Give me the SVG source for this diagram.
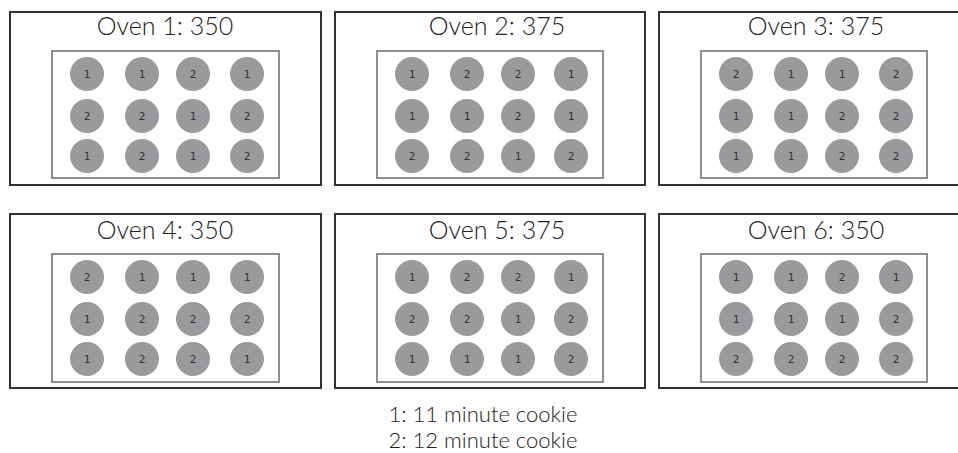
<svg xmlns="http://www.w3.org/2000/svg" width="958" height="453" viewBox="0 0 958 453">
<style>
.outer{fill:#fff;stroke:#333;stroke-width:2}
.inner{fill:#fff;stroke:#6a6a6a;stroke-width:1.5}
.c{fill:#9a9a9c}
.t{font-family:Lato,"Open Sans",sans-serif;font-weight:300;font-size:25px;fill:#222;text-anchor:middle}
.n{font-family:"DejaVu Sans Mono","Liberation Mono",monospace;font-size:11px;fill:#333;text-anchor:middle}
.l{font-family:Lato,"Open Sans",sans-serif;font-weight:300;font-size:22px;fill:#222;text-anchor:middle}
</style>
<rect width="958" height="453" fill="#fff"/>
<g id="oven1">
<rect class="outer" x="10" y="12" width="311" height="173"/>
<text class="t" x="165" y="35">Oven 1: 350</text>
<rect class="inner" x="52" y="51" width="227" height="127"/>
<circle class="c" cx="87" cy="74" r="17"/><text class="n" x="87" y="78">1</text>
<circle class="c" cx="142" cy="74" r="17"/><text class="n" x="142" y="78">1</text>
<circle class="c" cx="193" cy="74" r="17"/><text class="n" x="193" y="78">2</text>
<circle class="c" cx="247" cy="74" r="17"/><text class="n" x="247" y="78">1</text>
<circle class="c" cx="87" cy="116" r="17"/><text class="n" x="87" y="120">2</text>
<circle class="c" cx="142" cy="116" r="17"/><text class="n" x="142" y="120">2</text>
<circle class="c" cx="193" cy="116" r="17"/><text class="n" x="193" y="120">1</text>
<circle class="c" cx="247" cy="116" r="17"/><text class="n" x="247" y="120">2</text>
<circle class="c" cx="87" cy="156" r="17"/><text class="n" x="87" y="160">1</text>
<circle class="c" cx="142" cy="156" r="17"/><text class="n" x="142" y="160">2</text>
<circle class="c" cx="193" cy="156" r="17"/><text class="n" x="193" y="160">1</text>
<circle class="c" cx="247" cy="156" r="17"/><text class="n" x="247" y="160">2</text>
</g>
<g id="oven2">
<rect class="outer" x="335" y="12" width="310" height="173"/>
<text class="t" x="497" y="35">Oven 2: 375</text>
<rect class="inner" x="377" y="51" width="226" height="127"/>
<circle class="c" cx="412" cy="74" r="17"/><text class="n" x="412" y="78">1</text>
<circle class="c" cx="467" cy="74" r="17"/><text class="n" x="467" y="78">2</text>
<circle class="c" cx="518" cy="74" r="17"/><text class="n" x="518" y="78">2</text>
<circle class="c" cx="571" cy="74" r="17"/><text class="n" x="571" y="78">1</text>
<circle class="c" cx="412" cy="116" r="17"/><text class="n" x="412" y="120">1</text>
<circle class="c" cx="467" cy="116" r="17"/><text class="n" x="467" y="120">1</text>
<circle class="c" cx="518" cy="116" r="17"/><text class="n" x="518" y="120">2</text>
<circle class="c" cx="571" cy="116" r="17"/><text class="n" x="571" y="120">1</text>
<circle class="c" cx="412" cy="156" r="17"/><text class="n" x="412" y="160">2</text>
<circle class="c" cx="467" cy="156" r="17"/><text class="n" x="467" y="160">2</text>
<circle class="c" cx="518" cy="156" r="17"/><text class="n" x="518" y="160">1</text>
<circle class="c" cx="571" cy="156" r="17"/><text class="n" x="571" y="160">2</text>
</g>
<g id="oven3">
<rect class="outer" x="659" y="12" width="311" height="173"/>
<text class="t" x="816" y="35">Oven 3: 375</text>
<rect class="inner" x="701" y="51" width="226" height="127"/>
<circle class="c" cx="736" cy="74" r="17"/><text class="n" x="736" y="78">2</text>
<circle class="c" cx="791" cy="74" r="17"/><text class="n" x="791" y="78">1</text>
<circle class="c" cx="842" cy="74" r="17"/><text class="n" x="842" y="78">1</text>
<circle class="c" cx="896" cy="74" r="17"/><text class="n" x="896" y="78">2</text>
<circle class="c" cx="736" cy="116" r="17"/><text class="n" x="736" y="120">1</text>
<circle class="c" cx="791" cy="116" r="17"/><text class="n" x="791" y="120">1</text>
<circle class="c" cx="842" cy="116" r="17"/><text class="n" x="842" y="120">2</text>
<circle class="c" cx="896" cy="116" r="17"/><text class="n" x="896" y="120">2</text>
<circle class="c" cx="736" cy="156" r="17"/><text class="n" x="736" y="160">1</text>
<circle class="c" cx="791" cy="156" r="17"/><text class="n" x="791" y="160">1</text>
<circle class="c" cx="842" cy="156" r="17"/><text class="n" x="842" y="160">2</text>
<circle class="c" cx="896" cy="156" r="17"/><text class="n" x="896" y="160">2</text>
</g>
<g id="oven4">
<rect class="outer" x="10" y="214" width="311" height="174"/>
<text class="t" x="165" y="239">Oven 4: 350</text>
<rect class="inner" x="52" y="254" width="227" height="128"/>
<circle class="c" cx="87" cy="277" r="17"/><text class="n" x="87" y="281">2</text>
<circle class="c" cx="142" cy="277" r="17"/><text class="n" x="142" y="281">1</text>
<circle class="c" cx="193" cy="277" r="17"/><text class="n" x="193" y="281">1</text>
<circle class="c" cx="247" cy="277" r="17"/><text class="n" x="247" y="281">1</text>
<circle class="c" cx="87" cy="319" r="17"/><text class="n" x="87" y="323">1</text>
<circle class="c" cx="142" cy="319" r="17"/><text class="n" x="142" y="323">2</text>
<circle class="c" cx="193" cy="319" r="17"/><text class="n" x="193" y="323">2</text>
<circle class="c" cx="247" cy="319" r="17"/><text class="n" x="247" y="323">2</text>
<circle class="c" cx="87" cy="359" r="17"/><text class="n" x="87" y="363">1</text>
<circle class="c" cx="142" cy="359" r="17"/><text class="n" x="142" y="363">2</text>
<circle class="c" cx="193" cy="359" r="17"/><text class="n" x="193" y="363">2</text>
<circle class="c" cx="247" cy="359" r="17"/><text class="n" x="247" y="363">1</text>
</g>
<g id="oven5">
<rect class="outer" x="335" y="214" width="310" height="174"/>
<text class="t" x="497" y="239">Oven 5: 375</text>
<rect class="inner" x="377" y="254" width="226" height="128"/>
<circle class="c" cx="412" cy="277" r="17"/><text class="n" x="412" y="281">1</text>
<circle class="c" cx="467" cy="277" r="17"/><text class="n" x="467" y="281">2</text>
<circle class="c" cx="518" cy="277" r="17"/><text class="n" x="518" y="281">2</text>
<circle class="c" cx="571" cy="277" r="17"/><text class="n" x="571" y="281">1</text>
<circle class="c" cx="412" cy="319" r="17"/><text class="n" x="412" y="323">2</text>
<circle class="c" cx="467" cy="319" r="17"/><text class="n" x="467" y="323">2</text>
<circle class="c" cx="518" cy="319" r="17"/><text class="n" x="518" y="323">1</text>
<circle class="c" cx="571" cy="319" r="17"/><text class="n" x="571" y="323">2</text>
<circle class="c" cx="412" cy="359" r="17"/><text class="n" x="412" y="363">1</text>
<circle class="c" cx="467" cy="359" r="17"/><text class="n" x="467" y="363">1</text>
<circle class="c" cx="518" cy="359" r="17"/><text class="n" x="518" y="363">1</text>
<circle class="c" cx="571" cy="359" r="17"/><text class="n" x="571" y="363">2</text>
</g>
<g id="oven6">
<rect class="outer" x="659" y="214" width="311" height="174"/>
<text class="t" x="816" y="239">Oven 6: 350</text>
<rect class="inner" x="701" y="254" width="226" height="128"/>
<circle class="c" cx="736" cy="277" r="17"/><text class="n" x="736" y="281">1</text>
<circle class="c" cx="791" cy="277" r="17"/><text class="n" x="791" y="281">1</text>
<circle class="c" cx="842" cy="277" r="17"/><text class="n" x="842" y="281">2</text>
<circle class="c" cx="896" cy="277" r="17"/><text class="n" x="896" y="281">1</text>
<circle class="c" cx="736" cy="319" r="17"/><text class="n" x="736" y="323">1</text>
<circle class="c" cx="791" cy="319" r="17"/><text class="n" x="791" y="323">1</text>
<circle class="c" cx="842" cy="319" r="17"/><text class="n" x="842" y="323">1</text>
<circle class="c" cx="896" cy="319" r="17"/><text class="n" x="896" y="323">2</text>
<circle class="c" cx="736" cy="359" r="17"/><text class="n" x="736" y="363">2</text>
<circle class="c" cx="791" cy="359" r="17"/><text class="n" x="791" y="363">2</text>
<circle class="c" cx="842" cy="359" r="17"/><text class="n" x="842" y="363">2</text>
<circle class="c" cx="896" cy="359" r="17"/><text class="n" x="896" y="363">2</text>
</g>
<g id="connectors"/>
<g id="legend">
<text class="l" x="483" y="422">1: 11 minute cookie</text>
<text class="l" x="483" y="448">2: 12 minute cookie</text>
</g>
</svg>
